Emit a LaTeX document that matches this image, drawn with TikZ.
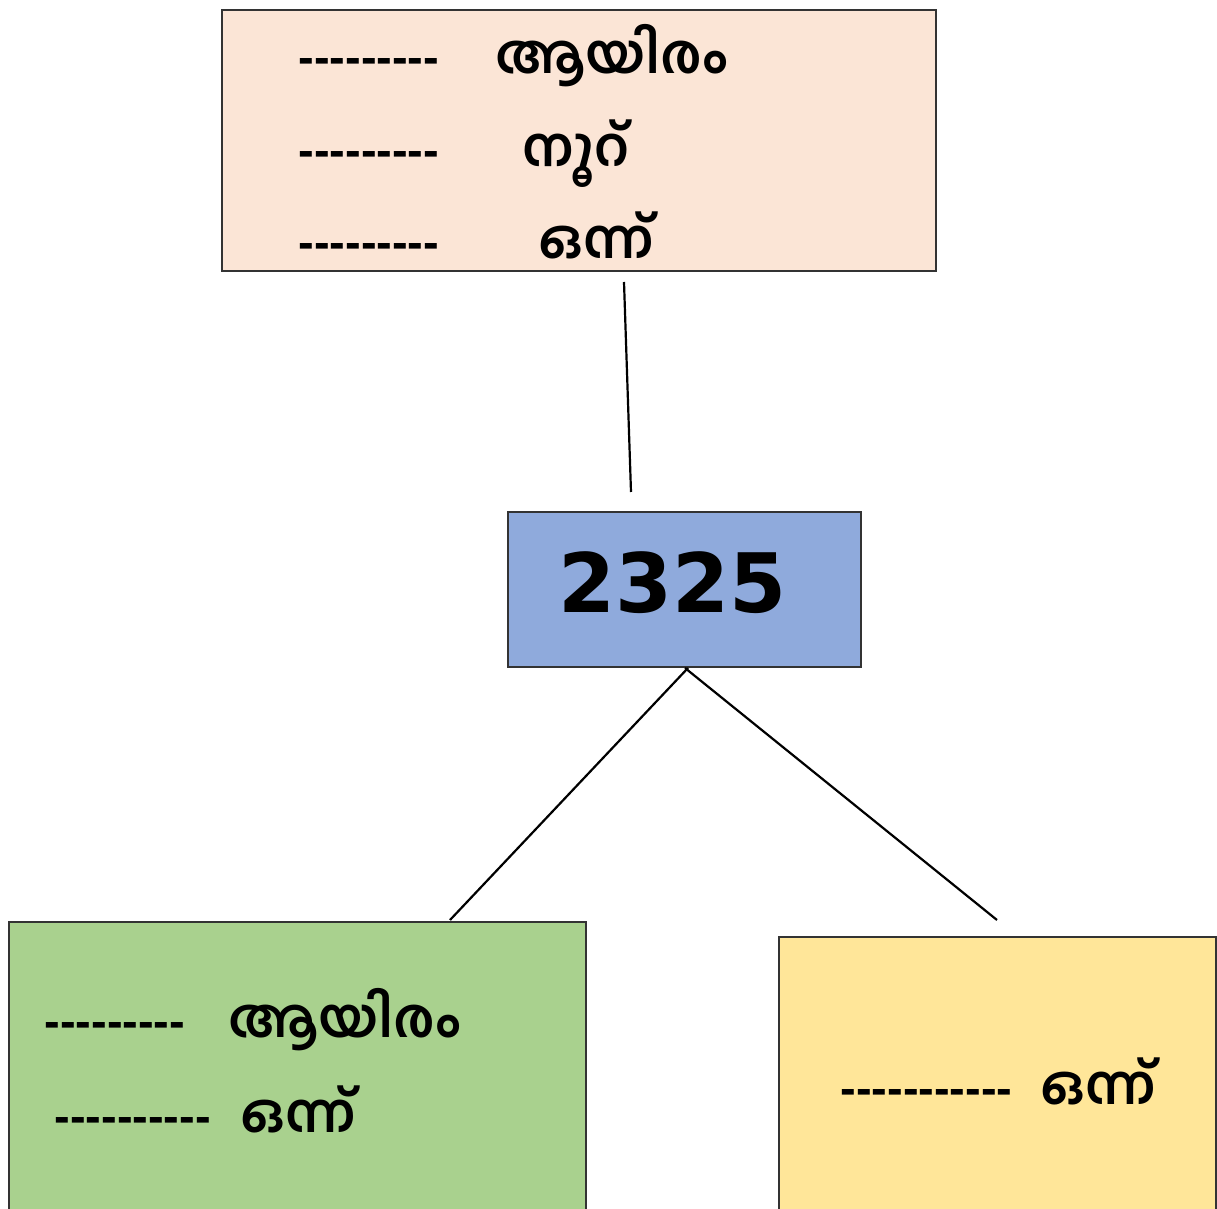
\documentclass[tikz,border=0pt]{standalone}
\usepackage{fontspec}
\setmainfont{Liberation Sans}
\newfontfamily\malfont[Script=Malayalam]{Hind Kochi}
\newfontfamily\numfont{DejaVu Sans}
\usetikzlibrary{positioning,calc}

\definecolor{peach}{HTML}{FBE5D6}
\definecolor{steel}{HTML}{8FAADC}
\definecolor{leaf}{HTML}{A9D18E}
\definecolor{butter}{HTML}{FFE699}

\newcommand{\dashrow}[1]{\foreach \i in {1,...,#1}{-}}

\begin{document}
\begin{tikzpicture}[
  x=0.5pt, y=-0.5pt,
  box/.style={draw=black!80, line width=0.9pt, inner sep=0pt, anchor=north west},
  word/.style={font=\malfont\bfseries\fontsize{27}{30}\selectfont, anchor=base west, inner sep=0pt},
  gap/.style={font=\bfseries\fontsize{23.5}{25}\selectfont, anchor=base west, inner sep=0pt},
  link/.style={line width=1.1pt, draw=black},
]
\useasboundingbox (0,0) rectangle (1217,1209);

% boxes
\node[box, fill=peach, minimum width=357pt, minimum height=130.5pt] (place) at (221,9) {};
\node[box, fill=steel, minimum width=176.5pt, minimum height=77.5pt] (num) at (507,511) {};
\node[box, fill=leaf, minimum width=288.5pt, minimum height=150pt] (left) at (8,921) {};
\node[box, fill=butter, minimum width=218.5pt, minimum height=145pt] (right) at (778,936) {};

% top box rows
\node[gap] (g1) at (298,74) {\dashrow{9}};
\node[word] (w1) at (495,74) {ആയിരം};
\node[gap] (g2) at (298,167) {\dashrow{9}};
\node[word] (w2) at (522,167) {നൂറ്};
\node[gap] (g3) at (298,259) {\dashrow{9}};
\node[word] (w3) at (538,259) {ഒന്ന്};

% number
\node[anchor=base west, inner sep=0pt, font=\numfont\bfseries\fontsize{41}{44}\selectfont] (val) at (558,612) {2325};

% left box rows
\node[gap] (g4) at (44,1037) {\dashrow{9}};
\node[word] (w4) at (228,1037) {ആയിരം};
\node[gap] (g5) at (54,1132) {\dashrow{10}};
\node[word] (w5) at (240,1132) {ഒന്ന്};

% right box row
\node[gap] (g6) at (840,1104) {\dashrow{11}};
\node[word] (w6) at (1040,1104) {ഒന്ന്};

% connectors
\coordinate (placefoot) at (624,282);
\coordinate (numhead) at (631,492);
\coordinate (numfootl) at (688,668);
\coordinate (numfootr) at (685,668);
\coordinate (lefthead) at (450,920);
\coordinate (righthead) at (997,920);

\draw[link] (placefoot) -- (numhead);
\draw[link] (numfootl) -- (lefthead);
\draw[link] (numfootr) -- (righthead);

\end{tikzpicture}
\end{document}
